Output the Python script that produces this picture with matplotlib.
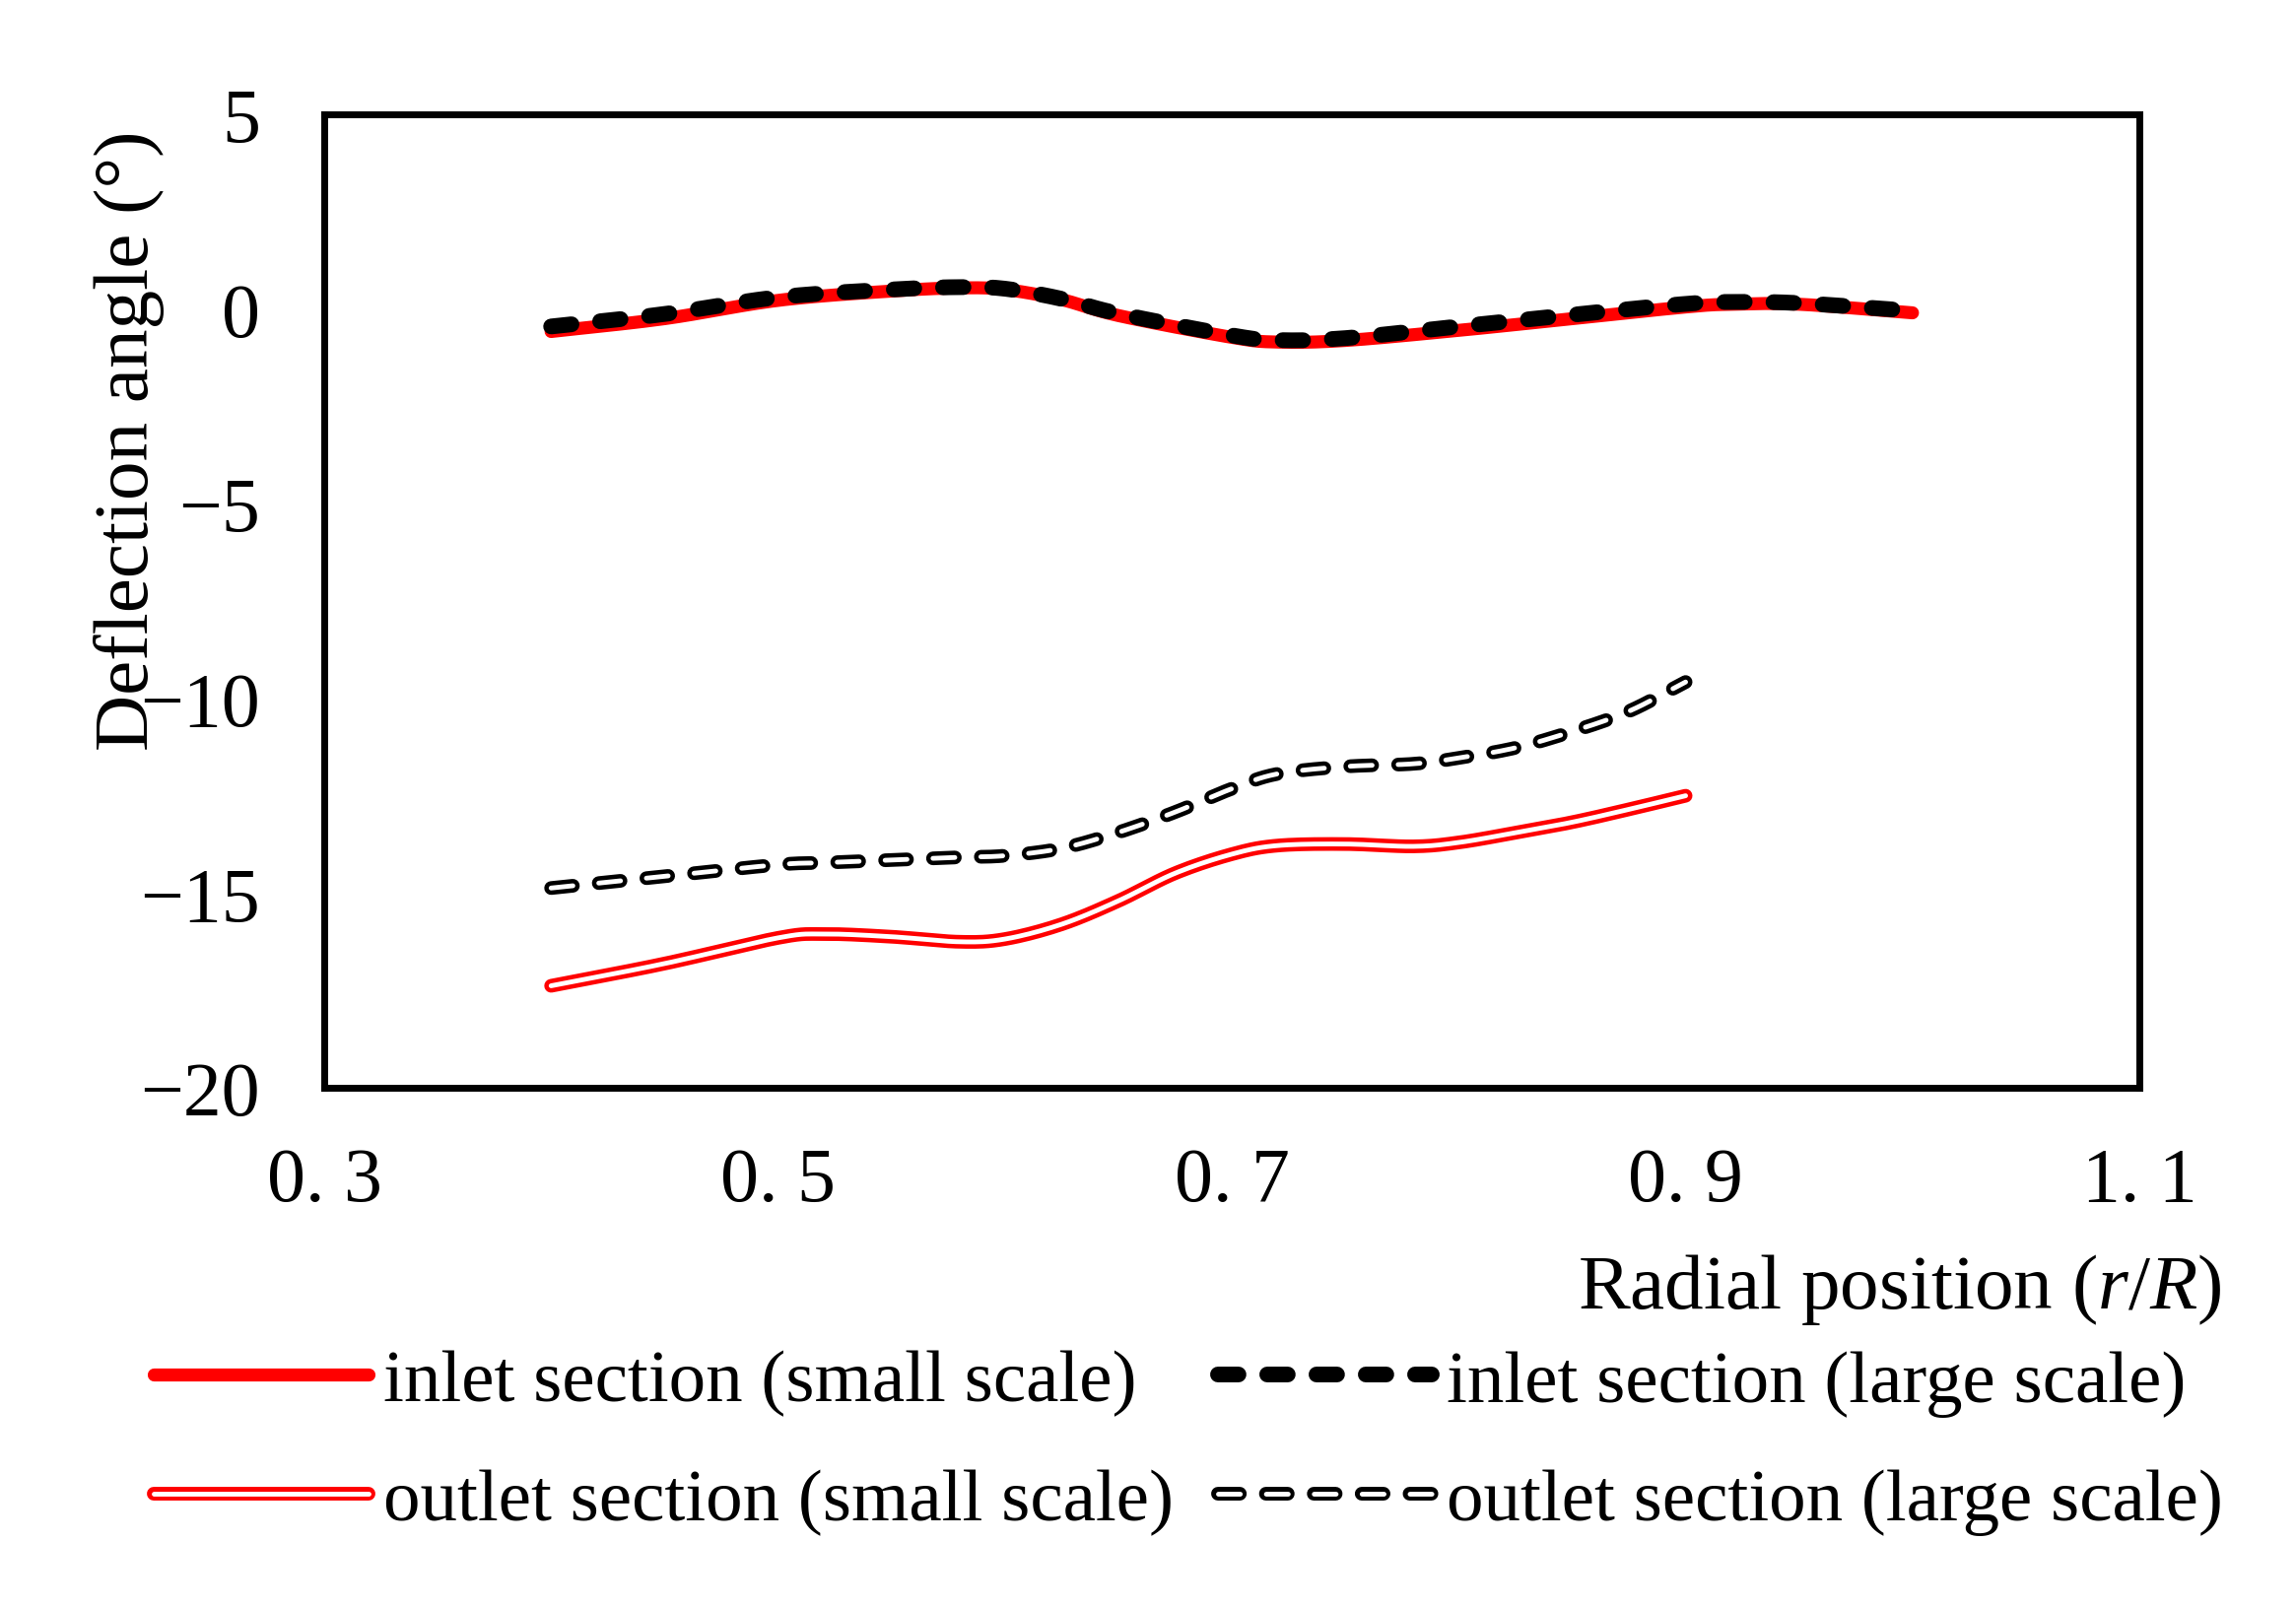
import matplotlib
matplotlib.use("Agg")
import numpy as np
import matplotlib.pyplot as plt
from matplotlib.legend_handler import HandlerTuple

plt.rcParams['font.family'] = ['Liberation Serif', 'DejaVu Serif']
plt.rcParams['mathtext.fontset'] = 'custom'
plt.rcParams['mathtext.rm'] = 'Liberation Serif'
plt.rcParams['mathtext.it'] = 'Liberation Serif:italic'
plt.rcParams['lines.scale_dashes'] = False

# radial positions (r/R)
x_inlet = [0.40, 0.45, 0.50, 0.55, 0.58, 0.60, 0.625, 0.65, 0.70, 0.72, 0.75,
           0.80, 0.85, 0.90, 0.92, 0.95, 1.00]
inlet_small = [-0.58, -0.25, 0.22, 0.46, 0.54, 0.50, 0.24, -0.17, -0.73, -0.85, -0.81,
               -0.55, -0.25, 0.05, 0.12, 0.12, -0.10]
inlet_large = [-0.45, -0.13, 0.30, 0.50, 0.56, 0.52, 0.26, -0.12, -0.68, -0.80, -0.75,
               -0.45, -0.15, 0.13, 0.18, 0.15, -0.05]

x_outlet = [0.40, 0.45, 0.50, 0.52, 0.55, 0.58, 0.60, 0.625, 0.65, 0.675, 0.70, 0.72,
            0.75, 0.78, 0.80, 0.825, 0.85, 0.875, 0.90]
outlet_small = [-17.38, -16.81, -16.15, -16.05, -16.12, -16.25, -16.18, -15.80, -15.20,
                -14.49, -14.00, -13.78, -13.74, -13.80, -13.70, -13.45, -13.18, -12.85,
                -12.50]
outlet_large = [-14.87, -14.57, -14.27, -14.22, -14.15, -14.08, -14.04, -13.85, -13.44,
                -12.92, -12.32, -11.94, -11.75, -11.68, -11.53, -11.27, -10.85, -10.33,
                -9.58]

xticks = [0.3, 0.5, 0.7, 0.9, 1.1]
xtick_labels = ["0. 3", "0. 5", "0. 7", "0. 9", "1. 1"]
yticks = [5, 0, -5, -10, -15, -20]


def smooth(x, y, n=16):
    # Catmull-Rom pass through the read points, like a "smoothed line" chart
    x = np.asarray(x, float)
    y = np.asarray(y, float)
    px = np.concatenate([[2 * x[0] - x[1]], x, [2 * x[-1] - x[-2]]])
    py = np.concatenate([[2 * y[0] - y[1]], y, [2 * y[-1] - y[-2]]])
    t = np.linspace(0, 1, n, endpoint=False)[:, None]
    out_x, out_y = [], []
    for i in range(1, len(px) - 2):
        for p, out in ((px, out_x), (py, out_y)):
            p0, p1, p2, p3 = p[i - 1], p[i], p[i + 1], p[i + 2]
            seg = 0.5 * (2 * p1 + (-p0 + p2) * t + (2 * p0 - 5 * p1 + 4 * p2 - p3) * t ** 2
                         + (-p0 + 3 * p1 - 3 * p2 + p3) * t ** 3)
            out.extend(seg.ravel())
    out_x.append(x[-1])
    out_y.append(y[-1])
    return out_x, out_y


fig = plt.figure(figsize=(23.3, 16.33), dpi=100)
ax = fig.add_axes([0.1412, 0.3233, 0.7906, 0.6051])

red = '#ff0000'

# inlet section
l1, = ax.plot(*smooth(x_inlet, inlet_small), color=red, lw=9.5, solid_capstyle='round')
l2, = ax.plot(*smooth(x_inlet, inlet_large), color='black', lw=11.5, dashes=(15, 21),
              dash_capstyle='round')

# outlet section (double lines)
sx, sy = smooth(x_outlet, outlet_small)
l3a, = ax.plot(sx, sy, color=red, lw=10, solid_capstyle='round')
l3b, = ax.plot(sx, sy, color='white', lw=3.5, solid_capstyle='round')
lx, ly = smooth(x_outlet, outlet_large)
l4a, = ax.plot(lx, ly, color='black', lw=10, dashes=(16, 19), dash_capstyle='round')
l4b, = ax.plot(lx, ly, color='white', lw=3.5, dashes=(16, 19), dash_capstyle='round')

ax.set_xlim(0.3, 1.1)
ax.set_ylim(-20, 5)
ax.set_xticks(xticks, labels=xtick_labels)
ax.set_yticks(yticks)
ax.tick_params(axis='both', length=0, labelsize=56)
ax.tick_params(axis='y', pad=47)
ax.tick_params(axis='x', pad=43)
for s in ax.spines.values():
    s.set_linewidth(5)

fig.text(0.0562, 0.7263, "Deflection angle (°)", rotation=90, ha='center', va='center',
         fontsize=57)
fig.text(0.9674, 0.1985, r"Radial position ($\mathit{r}$/$\mathit{R}$)", ha='right',
         va='center', fontsize=57)

handles = [l1, (l3a, l3b), l2, (l4a, l4b)]
labels = ["inlet section (small scale)", "outlet section (small scale)",
          "inlet section (large scale)", "outlet section (large scale)"]
fig.legend(handles, labels, ncol=2, loc='upper left', bbox_to_anchor=(0.067, 0.161),
           frameon=False, fontsize=54, handlelength=2.9, handletextpad=0.2,
           columnspacing=0.6, labelspacing=0.69, borderpad=0, borderaxespad=0,
           handler_map={tuple: HandlerTuple(ndivide=1)})

fig.savefig("out.png", dpi=100)
